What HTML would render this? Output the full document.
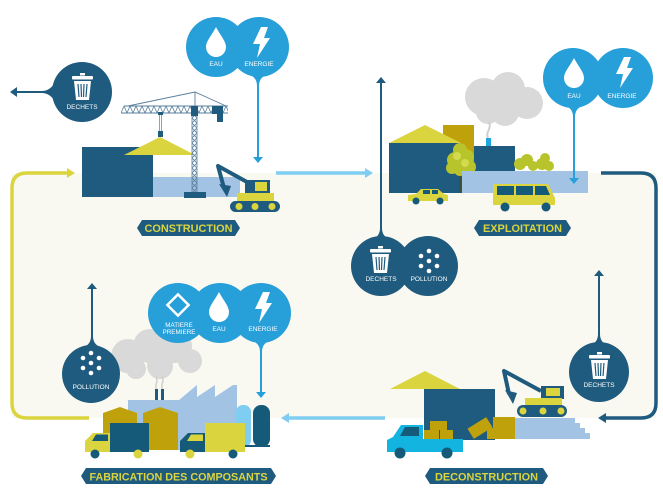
<!DOCTYPE html>
<html><head><meta charset="utf-8"><style>
html,body{margin:0;padding:0;background:#fff;}
svg{display:block}
text{font-family:"Liberation Sans",sans-serif;}
</style></head><body>
<svg width="663" height="500" viewBox="0 0 663 500" xmlns="http://www.w3.org/2000/svg">
<defs>
<path id="drop" d="M10,0 C14,8 20,14 20,20 A10,10 0 0 1 0,20 C0,14 6,8 10,0 Z" fill="#fff"/>
<polygon id="bolt" points="9,0 16,0 12,11 18,11 5,31 8,17 1,17" fill="#fff"/>
<g id="trash">
 <rect x="8" y="0" width="5" height="2.5" fill="#fff"/>
 <rect x="0" y="3" width="21" height="3.5" rx="1" fill="#fff"/>
 <path d="M2,8 L19,8 L17,27 L4,27 Z" fill="#fff"/>
 <path d="M6,11 L7,24 M9,11 L9.5,24 M12,11 L11.5,24 M15,11 L14,24" stroke="#1f5b7e" stroke-width="1.2"/>
</g>
<g id="dots" fill="#fff">
 <circle cx="0" cy="-10" r="2.3"/><circle cx="-8" cy="-5" r="2.3"/><circle cx="8" cy="-5" r="2.3"/>
 <circle cx="0" cy="0" r="2.3"/><circle cx="-8" cy="5" r="2.3"/><circle cx="8" cy="5" r="2.3"/>
 <circle cx="0" cy="10" r="2.3"/>
</g>
<pattern id="xh" x="192" y="113" width="5" height="5" patternUnits="userSpaceOnUse">
 <path d="M0,0 L5,5 M5,0 L0,5" stroke="#5a7f9c" stroke-width="0.8"/>
</pattern>
<pattern id="zz" x="121" y="106" width="6" height="7" patternUnits="userSpaceOnUse">
 <path d="M0,7 L3,0 L6,7" stroke="#5a7f9c" stroke-width="0.8" fill="none"/>
</pattern>
</defs>

<!-- cream background -->
<rect x="12" y="173" width="644" height="245" fill="#faf9f1"/>

<!-- cycle lines -->
<path d="M68,173 L27,173 Q12,173 12,188 L12,403 Q12,418 27,418 L89,418" stroke="#dad43f" stroke-width="3.5" fill="none"/>
<polygon points="67,168 75,173 67,178" fill="#dad43f"/>
<line x1="276" y1="173" x2="366" y2="173" stroke="#7fcdf1" stroke-width="3.5"/>
<polygon points="365,168 373,173 365,178" fill="#7fcdf1"/>
<path d="M601,173 L641,173 Q656,173 656,188 L656,403 Q656,418 641,418 L605,418" stroke="#1f5b7e" stroke-width="3.5" fill="none"/>
<polygon points="606,413 598,418 606,423" fill="#1f5b7e"/>
<line x1="385" y1="418" x2="288" y2="418" stroke="#7fcdf1" stroke-width="3.5"/>
<polygon points="289,413 281,418 289,423" fill="#7fcdf1"/>

<!-- ============ CONSTRUCTION ============ -->
<!-- dechets bubble -->
<line x1="52" y1="92" x2="16" y2="92" stroke="#1f5b7e" stroke-width="2"/>
<polygon points="17,87 17,97 10,92" fill="#1f5b7e"/>
<path d="M54,84 Q49,91 42,91 L42,93 Q49,93 54,100 Z" fill="#1f5b7e"/>
<circle cx="82" cy="92" r="30" fill="#1f5b7e"/>
<use href="#trash" x="72" y="73"/>
<text x="82" y="109" font-size="6.5" fill="#fff" text-anchor="middle">DECHETS</text>

<!-- eau / energie -->
<line x1="258" y1="76" x2="258" y2="158" stroke="#279fd9" stroke-width="2"/>
<polygon points="253,157 263,157 258,163" fill="#279fd9"/>
<circle cx="216" cy="47" r="30" fill="#279fd9"/>
<circle cx="259" cy="47" r="30" fill="#279fd9"/>
<path d="M250,75 Q257,78 257,86 L259,86 Q259,78 266,75 Z" fill="#279fd9"/>
<use href="#drop" x="206" y="27"/>
<use href="#bolt" x="252" y="27"/>
<text x="216" y="66" font-size="6.5" fill="#fff" text-anchor="middle">EAU</text>
<text x="259" y="66" font-size="6.5" fill="#fff" text-anchor="middle">ENERGIE</text>

<!-- buildings -->
<rect x="82" y="147" width="71" height="50" fill="#1f5b7e"/>
<rect x="153" y="177" width="87" height="20" fill="#a2c3e4"/>
<polygon points="124,155 160,137 195,155" fill="#dad43f"/>
<!-- crane -->
<rect x="121" y="106" width="107" height="7" fill="url(#zz)"/>
<path d="M121,113 L228,113 M124,106 L228,106" stroke="#5a7f9c" stroke-width="0.9"/>
<path d="M128,106 L195,92 L226,106" stroke="#5a7f9c" stroke-width="0.9" fill="none"/>
<line x1="195" y1="92" x2="195" y2="106" stroke="#5a7f9c" stroke-width="0.9"/>
<rect x="192" y="113" width="5" height="80" fill="url(#xh)"/>
<path d="M192,113 L192,193 M197,113 L197,193" stroke="#5a7f9c" stroke-width="0.8"/>
<rect x="191" y="106" width="7" height="10" fill="#1f5b7e"/>
<rect x="212" y="106" width="11" height="8" fill="#1f5b7e"/>
<rect x="217" y="106" width="6" height="16" fill="#1f5b7e"/>
<rect x="184" y="192" width="22" height="6" fill="#1f5b7e"/>
<rect x="158" y="112" width="5" height="3" fill="#1f5b7e"/>
<path d="M159.5,115 L159.5,131 M161.5,115 L161.5,131" stroke="#5a7f9c" stroke-width="0.7"/>
<rect x="158" y="131" width="5" height="6" fill="#1f5b7e"/>
<!-- excavator -->
<path d="M247,182 L218,166 L224,188" stroke="#1f5b7e" stroke-width="4" fill="none" stroke-linejoin="round"/>
<path d="M219,184 L231,186 L227,197 Z" fill="#1f5b7e"/>
<rect x="245" y="180" width="25" height="14" fill="#1f5b7e"/>
<rect x="255" y="182" width="12" height="9" fill="#dad43f"/>
<rect x="237" y="193" width="37" height="10" fill="#dad43f"/>
<rect x="230" y="201" width="50" height="11" rx="5.5" fill="#1f5b7e"/>
<circle cx="239" cy="206.5" r="3.5" fill="#dad43f"/>
<circle cx="255" cy="206.5" r="3.5" fill="#dad43f"/>
<circle cx="272" cy="206.5" r="3.5" fill="#dad43f"/>
<!-- label -->
<polygon points="137,228 142,220 235,220 240,228 235,236 142,236" fill="#1f5b7e"/>
<text x="188.5" y="232" font-size="11" font-weight="bold" fill="#dad43f" text-anchor="middle" textLength="88" lengthAdjust="spacingAndGlyphs">CONSTRUCTION</text>

<!-- ============ EXPLOITATION ============ -->
<!-- cloud -->
<g fill="#d9d9d9">
 <circle cx="484" cy="97" r="19"/><circle cx="508" cy="89" r="17"/><circle cx="527" cy="103" r="16"/>
 <circle cx="505" cy="112" r="14"/><circle cx="488" cy="112" r="12"/>
</g>
<path d="M488,138 C485,132 492,129 489,122" stroke="#cfcfcf" stroke-width="2" fill="none"/>
<rect x="443" y="125" width="31" height="50" fill="#bfa10c"/>
<rect x="486" y="138" width="5" height="9" fill="#1fa6dc"/>
<rect x="474" y="146" width="41" height="30" fill="#1f5b7e"/>
<rect x="389" y="143" width="73" height="50" fill="#1f5b7e"/>
<polygon points="389,143 425,125 461,143" fill="#dad43f"/>
<!-- shrubs -->
<g fill="#b8c42c">
 <circle cx="520" cy="164" r="6"/><circle cx="527" cy="160" r="6"/><circle cx="533" cy="166" r="5"/>
 <circle cx="542" cy="164" r="6"/><circle cx="549" cy="166" r="5"/><circle cx="545" cy="158" r="5"/>
</g>
<!-- tree -->
<rect x="459.5" y="165" width="2" height="28" fill="#3e4f3a"/>
<g fill="#b8c42c">
 <circle cx="455" cy="160" r="8"/><circle cx="466" cy="157" r="8"/><circle cx="460" cy="150" r="7"/>
 <circle cx="452" cy="168" r="6"/><circle cx="469" cy="167" r="7"/><circle cx="460" cy="170" r="6"/>
</g>
<g fill="#d3da4c">
 <circle cx="457" cy="156" r="4"/><circle cx="465" cy="163" r="4"/>
</g>
<rect x="462" y="171" width="126" height="22" fill="#a2c3e4"/>
<!-- car -->
<path d="M408,195 L416,194 L421,189 L438,189 L444,194 L448,195 L448,201 L408,201 Z" fill="#dad43f"/>
<rect x="423" y="190" width="7" height="4" fill="#155a78"/>
<rect x="432" y="190" width="6" height="4" fill="#155a78"/>
<circle cx="416" cy="201" r="3.5" fill="#155a78"/>
<circle cx="440" cy="201" r="3.5" fill="#155a78"/>
<!-- van -->
<path d="M493,184 L548,184 L555,198 L555,205 L493,205 Z" fill="#dad43f"/>
<rect x="497" y="186" width="17" height="9" fill="#155a78"/>
<rect x="516" y="186" width="17" height="9" fill="#155a78"/>
<path d="M535,186 L546,186 L550,195 L535,195 Z" fill="#155a78"/>
<circle cx="505" cy="207" r="4.5" fill="#155a78"/>
<circle cx="546" cy="207" r="4.5" fill="#155a78"/>
<!-- eau energie -->
<line x1="574" y1="106" x2="574" y2="179" stroke="#279fd9" stroke-width="2"/>
<polygon points="569,178 579,178 574,184" fill="#279fd9"/>
<circle cx="573" cy="78" r="30" fill="#279fd9"/>
<circle cx="623" cy="78" r="30" fill="#279fd9"/>
<path d="M566,106 Q573,109 573,117 L575,117 Q575,109 582,106 Z" fill="#279fd9"/>
<use href="#drop" x="564" y="58"/>
<use href="#bolt" x="615" y="57"/>
<text x="574" y="98" font-size="6.5" fill="#fff" text-anchor="middle">EAU</text>
<text x="622" y="98" font-size="6.5" fill="#fff" text-anchor="middle">ENERGIE</text>
<!-- label -->
<polygon points="474,228 479,220 566,220 571,228 566,236 479,236" fill="#1f5b7e"/>
<text x="522.5" y="232" font-size="11" font-weight="bold" fill="#dad43f" text-anchor="middle" textLength="79" lengthAdjust="spacingAndGlyphs">EXPLOITATION</text>

<!-- middle bubbles -->
<line x1="381" y1="82" x2="381" y2="236" stroke="#1f5b7e" stroke-width="2"/>
<polygon points="376,83 386,83 381,77" fill="#1f5b7e"/>
<path d="M373,239 Q380,236 380,228 L382,228 Q382,236 389,239 Z" fill="#1f5b7e"/>
<circle cx="381" cy="266" r="30" fill="#1f5b7e"/>
<circle cx="428" cy="266" r="30" fill="#1f5b7e"/>
<use href="#trash" x="370" y="246"/>
<use href="#dots" x="429" y="261"/>
<text x="381" y="281" font-size="6.5" fill="#fff" text-anchor="middle">DECHETS</text>
<text x="429" y="281" font-size="6.5" fill="#fff" text-anchor="middle">POLLUTION</text>

<!-- ============ FABRICATION ============ -->
<g fill="#d9d9d9">
 <circle cx="128" cy="356" r="17"/><circle cx="150" cy="346" r="17"/><circle cx="175" cy="346" r="17"/>
 <circle cx="190" cy="361" r="12"/><circle cx="160" cy="366" r="13"/><circle cx="136" cy="369" r="10"/>
</g>
<path d="M156.5,389 C154,384 159,382 156,377 M162.5,389 C160,384 165,382 162,377" stroke="#cfcfcf" stroke-width="1.5" fill="none"/>
<polygon points="128,400 179,400 197,385 197,397 215,385 215,397 233,385 237,385 237,450 128,450" fill="#a2c3e4"/>
<rect x="155" y="389" width="3" height="11" fill="#1f5b7e"/>
<rect x="161" y="389" width="3" height="11" fill="#1f5b7e"/>
<polygon points="103,413 120,407 137,413 137,450 103,450" fill="#bfa10c"/>
<polygon points="143,413 160,407 178,413 178,450 143,450" fill="#bfa10c"/>
<!-- tanks -->
<rect x="236" y="405" width="15" height="42" rx="7" fill="#7fcdf1"/>
<rect x="253" y="405" width="17" height="42" rx="8" fill="#155a78"/>
<rect x="237" y="445" width="33" height="2" fill="#155a78"/>
<!-- truck 1 -->
<rect x="110" y="423" width="39" height="29" fill="#155a78"/>
<path d="M85,441 L93,433 L110,433 L110,452 L85,452 Z" fill="#dad43f"/>
<path d="M96,434.5 L108,434.5 L108,441 L92,441 Z" fill="#155a78"/>
<circle cx="95" cy="454" r="4.5" fill="#155a78"/>
<circle cx="138" cy="454" r="4.5" fill="#dad43f"/>
<!-- truck 2 -->
<rect x="205" y="423" width="40" height="29" fill="#dad43f"/>
<path d="M180,441 L188,433 L205,433 L205,452 L180,452 Z" fill="#155a78"/>
<path d="M191,434.5 L203,434.5 L203,441 L187,441 Z" fill="#dad43f"/>
<circle cx="190" cy="454" r="4.5" fill="#dad43f"/>
<circle cx="233" cy="454" r="4.5" fill="#155a78"/>
<!-- pollution bubble -->
<line x1="92" y1="288" x2="92" y2="345" stroke="#1f5b7e" stroke-width="2"/>
<polygon points="87,289 97,289 92,283" fill="#1f5b7e"/>
<path d="M84,347 Q91,344 91,336 L93,336 Q93,344 100,347 Z" fill="#1f5b7e"/>
<circle cx="91" cy="374" r="29" fill="#1f5b7e"/>
<use href="#dots" x="91" y="363"/>
<text x="91" y="389" font-size="6.5" fill="#fff" text-anchor="middle">POLLUTION</text>
<!-- matiere eau energie -->
<line x1="261" y1="341" x2="261" y2="393" stroke="#279fd9" stroke-width="2"/>
<polygon points="256,392 266,392 261,398" fill="#279fd9"/>
<circle cx="178" cy="313" r="30" fill="#279fd9"/>
<circle cx="220" cy="313" r="30" fill="#279fd9"/>
<circle cx="261" cy="313" r="30" fill="#279fd9"/>
<path d="M253,341 Q260,344 260,352 L262,352 Q262,344 269,341 Z" fill="#279fd9"/>
<rect x="170.5" y="297.5" width="15" height="15" transform="rotate(45 178 305)" fill="none" stroke="#fff" stroke-width="2.5"/>
<use href="#drop" x="209" y="292"/>
<use href="#bolt" x="254" y="292"/>
<text x="179" y="327" font-size="6.3" fill="#fff" text-anchor="middle">MATIERE</text>
<text x="179" y="334" font-size="6.3" fill="#fff" text-anchor="middle">PREMIERE</text>
<text x="219" y="331" font-size="6.5" fill="#fff" text-anchor="middle">EAU</text>
<text x="263" y="331" font-size="6.5" fill="#fff" text-anchor="middle">ENERGIE</text>
<!-- label -->
<polygon points="81,476 86,468 271,468 276,476 271,484 86,484" fill="#1f5b7e"/>
<text x="178.5" y="480.5" font-size="11" font-weight="bold" fill="#dad43f" text-anchor="middle" textLength="178" lengthAdjust="spacingAndGlyphs">FABRICATION DES COMPOSANTS</text>

<!-- ============ DECONSTRUCTION ============ -->
<polygon points="390,389 425,371 460,389" fill="#dad43f"/>
<rect x="424" y="389" width="71" height="51" fill="#1f5b7e"/>
<polygon points="510,418 575,418 575,423 580,423 580,428 585,428 585,433 590,433 590,439 510,439" fill="#a2c3e4"/>
<!-- boxes -->
<rect x="430" y="421" width="17" height="9" fill="#bfa10c"/>
<rect x="424" y="430" width="15" height="9" fill="#bfa10c"/>
<rect x="440" y="430" width="13" height="9" fill="#bfa10c"/>
<rect x="469" y="422" width="22" height="12" fill="#bfa10c" transform="rotate(-32 480 428)"/>
<rect x="493" y="417" width="22" height="11" fill="#bfa10c"/>
<rect x="487" y="428" width="28" height="11" fill="#bfa10c"/>
<!-- excavator -->
<path d="M541,391 L504,371 L509,394" stroke="#1f5b7e" stroke-width="4" fill="none" stroke-linejoin="round"/>
<path d="M505,390 L517,393 L513,404 Z" fill="#1f5b7e"/>
<rect x="541" y="386" width="23" height="13" fill="#1f5b7e"/>
<rect x="546" y="388" width="14" height="8" fill="#dad43f"/>
<rect x="525" y="398" width="37" height="9" fill="#dad43f"/>
<rect x="517" y="405" width="50" height="12" rx="6" fill="#1f5b7e"/>
<circle cx="523" cy="411" r="3.5" fill="#dad43f"/>
<circle cx="543" cy="411" r="3.5" fill="#dad43f"/>
<circle cx="561" cy="411" r="3.5" fill="#dad43f"/>
<!-- truck -->
<path d="M387,440 L393,437 L401,425 L423,425 L423,439 L463,439 L463,452 L387,452 Z" fill="#14b4e0"/>
<path d="M405,427 L419,427 L419,436 L400,436 Z" fill="#155a78"/>
<circle cx="400" cy="453" r="5.5" fill="#155a78"/>
<circle cx="447" cy="453" r="5.5" fill="#155a78"/>
<!-- dechets bubble -->
<line x1="599" y1="275" x2="599" y2="343" stroke="#1f5b7e" stroke-width="2"/>
<polygon points="594,276 604,276 599,270" fill="#1f5b7e"/>
<path d="M591,345 Q598,342 598,334 L600,334 Q600,342 607,345 Z" fill="#1f5b7e"/>
<circle cx="599" cy="372" r="30" fill="#1f5b7e"/>
<use href="#trash" x="589" y="352"/>
<text x="599" y="387" font-size="6.5" fill="#fff" text-anchor="middle">DECHETS</text>
<!-- label -->
<polygon points="425,476 430,468 543,468 548,476 543,484 430,484" fill="#1f5b7e"/>
<text x="486.5" y="480.5" font-size="11" font-weight="bold" fill="#dad43f" text-anchor="middle" textLength="103" lengthAdjust="spacingAndGlyphs">DECONSTRUCTION</text>
</svg>
</body></html>
